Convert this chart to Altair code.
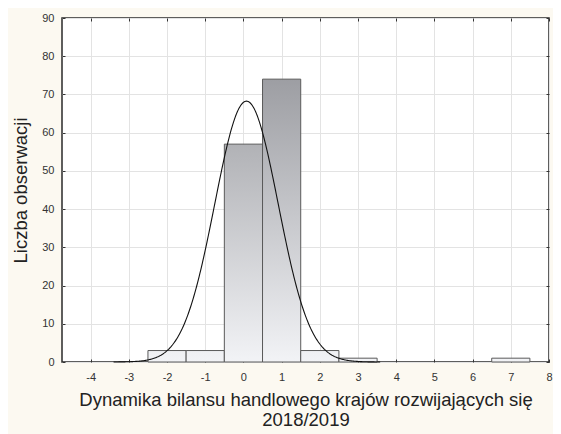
import altair as alt
import pandas as pd

# ---- data ----
bin_start = [-2.5, -1.5, -0.5, 0.5, 1.5, 2.5, 6.5]
bin_end = [-1.5, -0.5, 0.5, 1.5, 2.5, 3.5, 7.5]
counts = [3, 3, 57, 74, 3, 1, 1]
x_ticks = [-4, -3, -2, -1, 0, 1, 2, 3, 4, 5, 6, 7, 8]
y_ticks = [0, 10, 20, 30, 40, 50, 60, 70, 80, 90]
fit_mean = 0.08
fit_sd = 0.83
bin_width = 1.0
n_obs = sum(counts)

x_title = ["Dynamika bilansu handlowego krajów rozwijających się", "2018/2019"]
y_title = "Liczba obserwacji"

df = pd.DataFrame({"start": bin_start, "end": bin_end, "count": counts,
                   "idx": list(range(len(counts)))})

FONT = "Liberation Sans"
xscale = alt.Scale(domain=[-4.75, 8], nice=False, zero=False)
yscale = alt.Scale(domain=[0, 90], nice=False)


def mix(f):
    lo = (242, 243, 246)
    hi = (157, 158, 163)
    c = tuple(round(lo[k] + (hi[k] - lo[k]) * f) for k in range(3))
    return "#%02x%02x%02x" % c


main_x_axis = alt.Axis(values=x_ticks, grid=True, gridColor="#e3e3e3", ticks=False,
                       domain=False, labelFont=FONT, labelFontSize=11, labelColor="#333",
                       labelPadding=9, labelFlush=False, labelExpr="datum.value + ''",
                       title=x_title, titleFont=FONT,
                       titleFontSize=18.5, titleFontWeight="normal", titleColor="#222",
                       titlePadding=8, titleLineHeight=20)
main_y_axis = alt.Axis(values=y_ticks, grid=True, gridColor="#e3e3e3", ticks=False,
                       domain=False, labelFont=FONT, labelFontSize=11, labelColor="#333",
                       labelPadding=8, title=y_title, titleFont=FONT, titleFontSize=18.5,
                       titleFontWeight="normal", titleColor="#222", titlePadding=11)

layers = []
base = alt.Chart(df)
for i, c in enumerate(counts):
    grad = alt.Gradient(
        gradient="linear", x1=0, x2=0, y1=0, y2=1,
        stops=[alt.GradientStop(offset=0, color=mix(c / max(counts))),
               alt.GradientStop(offset=1, color=mix(0))])
    first = i == 0
    layers.append(
        base.transform_filter(alt.datum.idx == i)
        .mark_bar(color=grad, stroke="#5a5a5a", strokeWidth=1)
        .encode(
            x=alt.X("start:Q", scale=xscale, axis=main_x_axis if first else None),
            x2="end:Q",
            y=alt.Y("count:Q", scale=yscale, axis=main_y_axis if first else None),
            y2=alt.datum(0),
        )
    )

curve = (
    alt.Chart(alt.sequence(start=-3.4, stop=3.6, step=0.02, as_="xv"))
    .transform_calculate(
        yv=f"{n_obs}*{bin_width}/({fit_sd}*sqrt(2*PI))*exp(-0.5*pow((datum.xv-{fit_mean})/{fit_sd},2))")
    .mark_line(color="#111", strokeWidth=1.1)
    .encode(x=alt.X("xv:Q", scale=xscale, axis=None),
            y=alt.Y("yv:Q", scale=yscale, axis=None))
)
layers.append(curve)


def tick_axis(orient, values):
    return alt.Axis(orient=orient, values=values, labels=False, ticks=True, tickSize=3,
                    tickColor="#333", tickWidth=1, offset=-3, domain=False, grid=False,
                    title=None)


ticks_a = (
    base.mark_point(opacity=0)
    .encode(x=alt.X("start:Q", scale=xscale, axis=tick_axis("top", x_ticks)),
            y=alt.Y("count:Q", scale=yscale, axis=tick_axis("right", y_ticks)))
)
ticks_b = (
    base.mark_point(opacity=0)
    .encode(x=alt.X("start:Q", scale=xscale, axis=tick_axis("bottom", x_ticks)),
            y=alt.Y("count:Q", scale=yscale, axis=tick_axis("left", y_ticks)))
)
layers += [ticks_a, ticks_b]

chart = (
    alt.layer(*layers)
    .resolve_axis(x="independent", y="independent")
    .properties(width=487, height=344, background="#fcf9f1",
                padding={"left": 54, "top": 10, "right": 4, "bottom": 72},
                autosize=alt.AutoSizeParams(type="none"))
    .configure_view(fill="white", stroke="#2a2a2a", strokeWidth=1.5)
)

chart.save("out.html", embed_options={"renderer": "svg", "actions": False})
